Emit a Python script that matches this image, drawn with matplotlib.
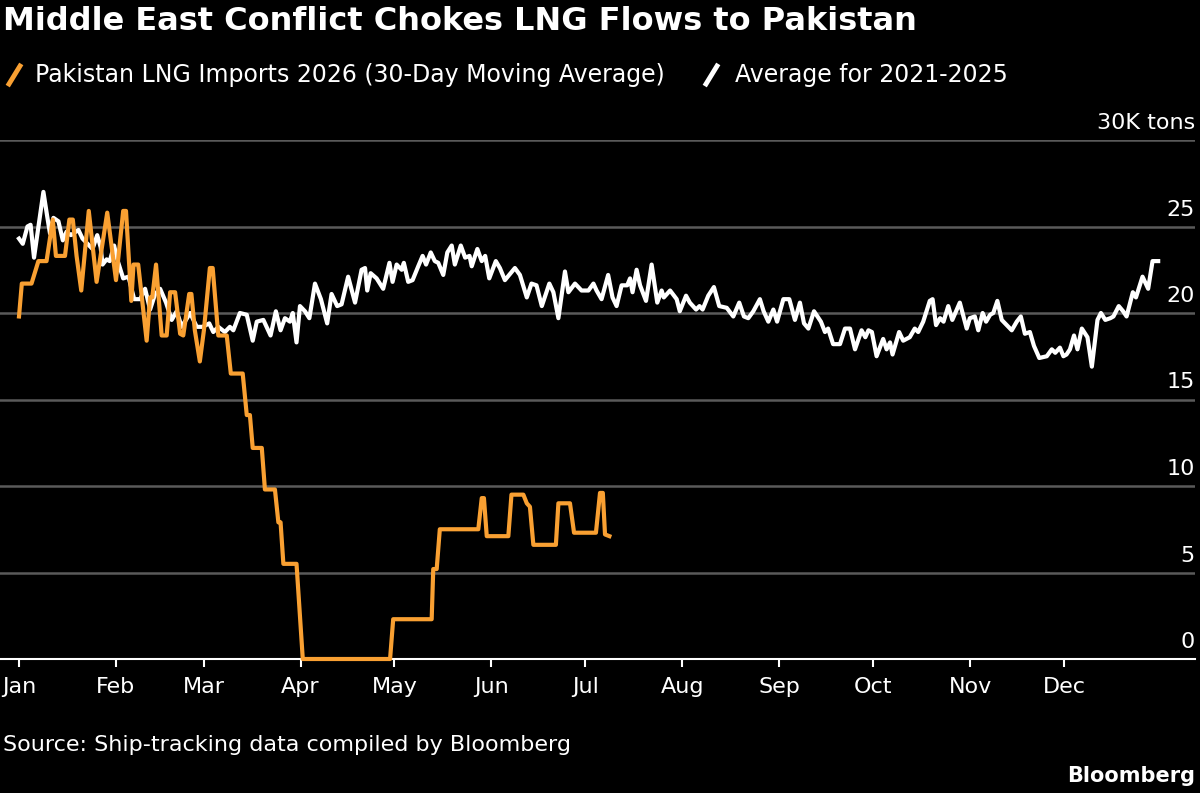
import numpy as np
import matplotlib.pyplot as plt
import matplotlib.transforms as mtransforms
from matplotlib.lines import Line2D

plt.rcParams.update({
    "font.family": ["DejaVu Sans"],
    "font.size": 16,
    "figure.facecolor": "black",
    "axes.facecolor": "black",
})

# month axis (day of year 2026)
month_starts = [0, 31, 59, 90, 120, 151, 181, 212, 243, 273, 304, 334]
month_labels = ["Jan", "Feb", "Mar", "Apr", "May", "Jun",
                "Jul", "Aug", "Sep", "Oct", "Nov", "Dec"]
ytick_vals = [0, 5, 10, 15, 20, 25, 30]
ytick_labels = ["0", "5", "10", "15", "20", "25", "30K tons"]

# Pakistan LNG imports 2026, 30-day moving average (K tons)
imports_days = [0, 0.9, 4.0, 6.2, 8.8, 10.8, 11.8, 14.7, 16.1, 17.2, 18.4, 19.9,
                22.3, 24.8, 28.2, 31.0, 33.3, 34.2, 35.9, 36.6, 38.1, 40.8, 41.9,
                42.6, 43.8, 45.6, 47.2, 48.3, 49.9, 51.5, 52.5, 54.4, 55.1, 56.2,
                57.8, 59.1, 61.0, 61.9, 63.7, 66.4, 67.7, 71.5, 72.8, 73.8, 74.7,
                77.6, 78.6, 81.8, 82.9, 83.6, 84.5, 88.7, 90.7, 118.6, 119.6, 131.9,
                132.4, 133.5, 134.5, 146.8, 147.9, 148.6, 149.5, 156.4, 157.4, 161.2,
                162.3, 163.3, 164.4, 171.6, 172.4, 176.1, 177.4, 184.4, 185.7, 186.6,
                187.3, 188.7]
imports_vals = [19.8, 21.7, 21.7, 23.0, 23.0, 25.4, 23.3, 23.3, 25.4, 25.4, 23.3, 21.3,
                25.9, 21.8, 25.8, 21.9, 25.9, 25.9, 20.7, 22.8, 22.8, 18.4, 20.9,
                20.9, 22.8, 18.7, 18.7, 21.2, 21.2, 18.8, 18.7, 21.1, 21.1, 19.0,
                17.2, 19.0, 22.6, 22.6, 18.7, 18.7, 16.5, 16.5, 14.1, 14.1, 12.2,
                12.2, 9.8, 9.8, 7.9, 7.9, 5.5, 5.5, 0, 0, 2.3, 2.3,
                5.2, 5.2, 7.5, 7.5, 9.3, 9.3, 7.1, 7.1, 9.5, 9.5,
                9.0, 8.8, 6.6, 6.6, 9.0, 9.0, 7.3, 7.3, 9.6, 9.6,
                7.2, 7.1]

# average for 2021-2025 (K tons)
avg_days = [0, 1.2, 2.7, 3.7, 4.8, 7.8, 9.0, 9.9, 11.0, 12.6, 14.0, 15.2, 16.6, 19.0,
            20.3, 23.5, 25.0, 26.1, 26.7, 28.0, 29.0, 30.4, 31.4, 33.3, 35.0, 36.8,
            38.7, 40.3, 41.9, 43.5, 45.1, 47.0, 48.8, 50.4, 52.0, 54.7, 56.8, 58.7,
            60.8, 62.1, 63.7, 65.8, 67.4, 68.5, 70.6, 72.8,
            74.7, 76.0, 78.1, 80.4, 82.1, 83.6, 85.0, 86.6, 87.5, 88.7, 89.8, 91.4,
            92.8, 94.6, 96.5, 98.5, 99.9, 101.7, 103.1, 105.2, 107.4, 109.5, 110.6,
            111.3, 112.4, 114.3, 116.4, 118.4, 119.4, 120.7, 122.3, 123.0, 124.4,
            125.8, 127.6, 129.0, 130.1, 131.6, 132.9, 134.0, 135.6, 136.9, 138.3,
            139.3, 141.2, 142.6, 144.0, 144.7, 146.5, 147.9, 149.0, 150.3, 152.4,
            153.7, 155.3, 158.5, 160.1, 162.3, 163.8, 165.4, 167.1,
            169.5, 170.8, 172.4, 174.5, 175.6, 177.7, 179.8, 182.0, 183.6, 184.6,
            186.2, 188.3, 189.7, 191.0, 192.6, 194.4, 195.3, 196.1, 197.4, 198.5,
            200.4, 202.2, 204.0, 205.4, 206.1, 208.1, 210.2, 211.2, 213.2, 214.4,
            216.4, 217.5, 218.5, 220.3, 222.1, 223.8, 226.2, 228.3, 230.2, 231.7,
            233.1, 234.7, 236.8, 238.0, 239.5, 241.1, 242.3, 244.3, 246.2, 248.0,
            249.6, 250.9, 252.3, 254.1, 256.3, 257.6, 258.6, 260.2, 262.4, 264.0,
            265.6, 267.2, 269.3, 270.5, 271.5, 272.6, 274.1, 276.2, 277.3, 278.4,
            279.2, 281.3, 282.6, 284.7, 286.3, 287.4, 289.0, 291.1, 292.0, 293.1,
            294.4, 295.5, 297.0, 298.3, 300.7, 302.9, 303.9, 305.5, 306.6, 308.0,
            309.1, 310.4, 311.4, 312.7, 314.1, 315.7, 317.3, 318.9, 320.2, 321.5,
            323.1, 324.4, 326.1, 328.5, 330.1, 331.2, 332.7, 333.8, 334.8, 335.9,
            337.2, 338.3, 339.7, 341.5, 342.9, 344.7, 345.8, 347.2, 348.8, 349.8,
            351.5, 352.9, 354.0, 356.0, 357.0, 359.1, 360.9, 362.3, 364.1]
avg_vals = [24.3, 24.0, 25.0, 25.1, 23.2, 27.0, 25.6, 24.6, 25.5, 25.3, 24.2, 24.7, 24.5, 24.8,
            24.3, 23.7, 24.5, 23.8, 22.8, 23.1, 23.0, 23.9, 23.1, 22.0, 22.1, 20.8,
            20.8, 21.4, 20.2, 21.1, 21.4, 20.6, 19.6, 20.1, 19.2, 20.0, 19.2, 19.2,
            19.4, 18.9, 19.2, 18.9, 19.2, 19.0, 20.0, 19.9,
            18.4, 19.5, 19.6, 18.7, 20.1, 19.0, 19.7, 19.5, 20.0, 18.3, 20.4, 20.1,
            19.7, 21.7, 20.8, 19.4, 21.1, 20.4, 20.5, 22.1, 20.6, 22.5, 22.6,
            21.3, 22.3, 22.0, 21.4, 22.9, 21.8, 22.8, 22.5, 22.9, 21.8,
            21.9, 22.7, 23.3, 22.8, 23.5, 23.0, 22.9, 22.2, 23.5, 23.9,
            22.8, 23.9, 23.2, 23.3, 22.7, 23.7, 23.0, 23.3, 22.0, 23.0,
            22.6, 21.9, 22.6, 22.2, 20.9, 21.7, 21.6, 20.4,
            21.7, 21.2, 19.7, 22.4, 21.2, 21.7, 21.3, 21.3, 21.7, 21.3,
            20.8, 22.2, 20.9, 20.4, 21.6, 21.6, 22.0, 21.2, 22.5, 21.6,
            20.7, 22.8, 20.6, 21.3, 20.9, 21.3, 20.8, 20.1, 21.0, 20.6,
            20.2, 20.4, 20.2, 21.0, 21.5, 20.4, 20.3, 19.8, 20.6, 19.8,
            19.7, 20.1, 20.8, 20.1, 19.5, 20.2, 19.5, 20.8, 20.8, 19.6,
            20.6, 19.4, 19.1, 20.1, 19.5, 18.9, 19.1, 18.2, 18.2, 19.1,
            19.1, 17.9, 19.0, 18.6, 19.0, 18.9, 17.5, 18.5, 17.9, 18.3,
            17.6, 18.9, 18.4, 18.6, 19.1, 18.9, 19.5, 20.7, 20.8, 19.3,
            19.7, 19.5, 20.4, 19.6, 20.6, 19.1, 19.7, 19.8, 19.0, 20.0,
            19.5, 19.9, 20.0, 20.7, 19.6, 19.3, 19.0, 19.5, 19.8, 18.8,
            18.9, 18.1, 17.4, 17.5, 17.9, 17.7, 18.0, 17.5, 17.6, 17.9,
            18.7, 17.9, 19.1, 18.6, 16.9, 19.6, 20.0, 19.6, 19.7, 19.8,
            20.4, 20.1, 19.8, 21.2, 20.9, 22.1, 21.4, 23.0, 23.0]

orange = "#f9a032"
W, H = 1200, 793
fig = plt.figure(figsize=(W / 100, H / 100), dpi=100)

# plot area: x from left edge to 1195 px, y from 140 px (30) to 659 px (0)
ax = fig.add_axes([0, 1 - 659 / H, 1195 / W, (659 - 140) / H])
px_per_day = (1064 - 19) / 334
ax.set_xlim(-19 / px_per_day, (1195 - 19) / px_per_day)
ax.set_ylim(0, 30)

ax.plot(avg_days, avg_vals, color="white", lw=3, solid_joinstyle="round", zorder=3)
ax.plot(imports_days, imports_vals, color=orange, lw=3, solid_joinstyle="round",
        zorder=4, clip_on=False)

for s in ["top", "left", "right"]:
    ax.spines[s].set_visible(False)
ax.spines["bottom"].set_color("white")
ax.spines["bottom"].set_linewidth(1.5)

ax.set_yticks(ytick_vals[1:])
ax.grid(axis="y", color="#5a5a5a", linewidth=1.8)
ax.tick_params(axis="y", length=0, labelleft=False)
ax.set_axisbelow(True)

# y labels sit just above their gridline, right aligned
offset = mtransforms.ScaledTranslation(0, 11 / 100, fig.dpi_scale_trans)
for v, lab in zip(ytick_vals, ytick_labels):
    ax.text(1, v, lab, transform=ax.get_yaxis_transform() + offset,
            ha="right", va="baseline", color="white", fontsize=16)

ax.set_xticks(month_starts, month_labels)
ax.tick_params(axis="x", direction="out", length=6, width=1.5, color="white",
               pad=7, labelcolor="white", labelsize=16)

fig.text(3 / W, 1 - 21 / H, "Middle East Conflict Chokes LNG Flows to Pakistan",
         color="white", fontsize=23, fontweight="bold", ha="left", va="center")

# legend
leg_y = 1 - 75 / H
fig.add_artist(Line2D([9 / W, 20 / W], [1 - 84 / H, 1 - 66 / H], color=orange,
                      lw=3.5, transform=fig.transFigure))
fig.text(35 / W, leg_y, "Pakistan LNG Imports 2026 (30-Day Moving Average)",
         color="white", fontsize=17, ha="left", va="center")
fig.add_artist(Line2D([706 / W, 717 / W], [1 - 84 / H, 1 - 66 / H], color="white",
                      lw=3.5, transform=fig.transFigure))
fig.text(735 / W, leg_y, "Average for 2021-2025",
         color="white", fontsize=17, ha="left", va="center")

fig.text(3 / W, 1 - 745 / H, "Source: Ship-tracking data compiled by Bloomberg",
         color="white", fontsize=16, ha="left", va="center")
fig.text(1195 / W, 1 - 776 / H, "Bloomberg", color="white", fontsize=15,
         fontweight="bold", ha="right", va="center")

fig.savefig("out.png", dpi=100, facecolor="black")
